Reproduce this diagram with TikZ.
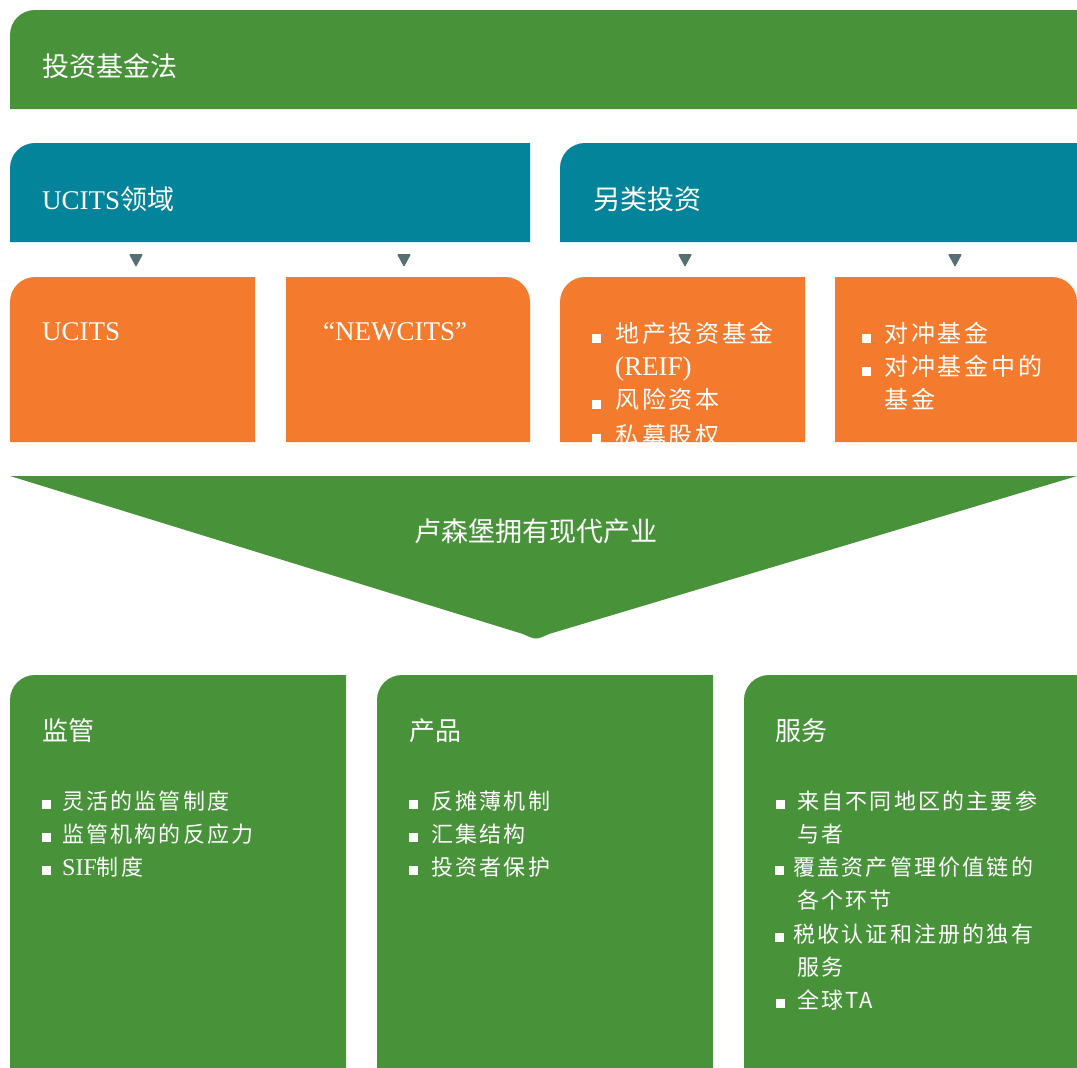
\documentclass[tikz,border=0pt]{standalone}
\usepackage{fontspec}
\setmainfont{Liberation Serif}
\newfontfamily\cjkfont{Noto Sans CJK SC}
\definecolor{lxgreen}{HTML}{48933A}
\definecolor{lxteal}{HTML}{03849A}
\definecolor{lxorange}{HTML}{F47B2E}
\definecolor{lxslate}{HTML}{566F72}
\newcommand\rad{25}

\begin{document}
\begin{tikzpicture}[x=1pt, y=-1pt,
    every node/.style={text=white, inner sep=0pt, font=\cjkfont},
    title/.style={anchor=west, font=\cjkfont\fontsize{27}{33}\selectfont},
    item/.style={anchor=north west, align=left,
      font=\cjkfont\fontsize{24}{33}\selectfont\addfontfeature{LetterSpace=12}},
    subitem/.style={anchor=north west, align=left,
      font=\cjkfont\fontsize{22}{33}\selectfont\addfontfeature{LetterSpace=10}},
    bullet/.style={fill=white, minimum size=9pt},
    marker/.style={fill=lxslate, rounded corners=1pt}]
    \useasboundingbox (0,0) rectangle (1077,1068);

    % law banner
    \fill[lxgreen] (10,109) -- (10,35) arc[start angle=180, end angle=270, radius=\rad]
      -- (1077,10) -- (1077,109) -- cycle;
    \node[title] (law) at (42,66) {投资基金法};

    % two domains
    \fill[lxteal] (10,242) -- (10,168) arc[start angle=180, end angle=270, radius=\rad]
      -- (530,143) -- (530,242) -- cycle;
    \fill[lxteal] (560,242) -- (560,168) arc[start angle=180, end angle=270, radius=\rad]
      -- (1077,143) -- (1077,242) -- cycle;
    \node[title] (ucitsdom) at (42,199) {\fontsize{27}{33}\rmfamily UCITS\cjkfont 领域};
    \node[title] (alt)      at (593,199) {另类投资};

    % down markers
    \fill[marker] (129,254) -- (143,254) -- (136,267) -- cycle;
    \fill[marker] (397,254) -- (411,254) -- (404,267) -- cycle;
    \fill[marker] (678,254) -- (692,254) -- (685,267) -- cycle;
    \fill[marker] (948,254) -- (962,254) -- (955,267) -- cycle;

    % orange boxes
    \fill[lxorange] (10,442) -- (10,302) arc[start angle=180, end angle=270, radius=\rad]
      -- (255,277) -- (255,442) -- cycle;
    \fill[lxorange] (286,442) -- (286,277) -- (505,277)
      arc[start angle=270, end angle=360, radius=\rad] -- (530,442) -- cycle;
    \fill[lxorange] (560,442) -- (560,302) arc[start angle=180, end angle=270, radius=\rad]
      -- (805,277) -- (805,442) -- cycle;
    \fill[lxorange] (835,442) -- (835,277) -- (1052,277)
      arc[start angle=270, end angle=360, radius=\rad] -- (1077,442) -- cycle;

    \node[title, font=\rmfamily\fontsize{27}{33}\selectfont] (ucits) at (42,332) {UCITS};
    \node[title, font=\rmfamily\fontsize{27}{33}\selectfont] (newcits) at (323,332) {“NEWCITS”};

    \begin{scope}
      \clip (560,277) rectangle (805,442);
      \node[bullet] (b31) at (596,338) {};
      \node[item]   (reif) at (615,319) {\strut 地产投资基金\\{\rmfamily\fontsize{27}{33}\selectfont (REIF)}};
      \node[bullet] (b32) at (596,404) {};
      \node[item]   (vc) at (615,385) {\strut 风险资本};
      \node[bullet] (b33) at (596,438) {};
      \node[item]   (pe) at (615,421) {\strut 私募股权};
    \end{scope}

    \node[bullet] (b41) at (866,338) {};
    \node[item]   (hedge) at (884,319) {\strut 对冲基金};
    \node[bullet] (b42) at (866,371) {};
    \node[item]   (fohf) at (884,352) {\strut 对冲基金中的\\基金};

    % big funnel
    \fill[lxgreen] (10,476) -- (1077,476) -- (549,634) .. controls (536,640) .. (523,634) -- cycle;
    \node[font=\cjkfont\fontsize{27}{33}\selectfont] (industry) at (536,531) {卢森堡拥有现代产业};

    % three pillars
    \fill[lxgreen] (10,1068) -- (10,700) arc[start angle=180, end angle=270, radius=\rad]
      -- (346,675) -- (346,1068) -- cycle;
    \fill[lxgreen] (377,1068) -- (377,700) arc[start angle=180, end angle=270, radius=\rad]
      -- (713,675) -- (713,1068) -- cycle;
    \fill[lxgreen] (744,1068) -- (744,700) arc[start angle=180, end angle=270, radius=\rad]
      -- (1077,675) -- (1077,1068) -- cycle;

    \node[title, font=\cjkfont\fontsize{26}{33}\selectfont] (reg)  at (42,731)  {监管};
    \node[title, font=\cjkfont\fontsize{26}{33}\selectfont] (prod) at (409,731) {产品};
    \node[title, font=\cjkfont\fontsize{26}{33}\selectfont] (serv) at (775,731) {服务};

    \node[bullet] (r1) at (46,804) {};
    \node[subitem] (flex) at (62,786) {\strut 灵活的监管制度};
    \node[bullet] (r2) at (46,837) {};
    \node[subitem] (resp) at (62,819) {\strut 监管机构的反应力};
    \node[bullet] (r3) at (46,870) {};
    \node[subitem] (sif) at (62,852) {\strut{\rmfamily\fontsize{24}{33}\selectfont SIF}制度};

    \node[bullet] (p1) at (413,804) {};
    \node[subitem] (dil) at (431,786) {\strut 反摊薄机制};
    \node[bullet] (p2) at (413,837) {};
    \node[subitem] (pool) at (431,819) {\strut 汇集结构};
    \node[bullet] (p3) at (413,870) {};
    \node[subitem] (prot) at (431,852) {\strut 投资者保护};

    \node[bullet] (s1) at (780,804) {};
    \node[subitem] (players) at (797,786) {\strut 来自不同地区的主要参\\与者};
    \node[bullet] (s2) at (779,870) {};
    \node[subitem] (chain) at (793,852) {\strut 覆盖资产管理价值链的\\\hspace*{4pt}各个环节};
    \node[bullet] (s3) at (779,937) {};
    \node[subitem] (tax) at (793,919) {\strut 税收认证和注册的独有\\\hspace*{4pt}服务};
    \node[bullet] (s4) at (780,1003) {};
    \node[subitem] (ta) at (797,985) {\strut 全球TA};
\end{tikzpicture}
\end{document}
